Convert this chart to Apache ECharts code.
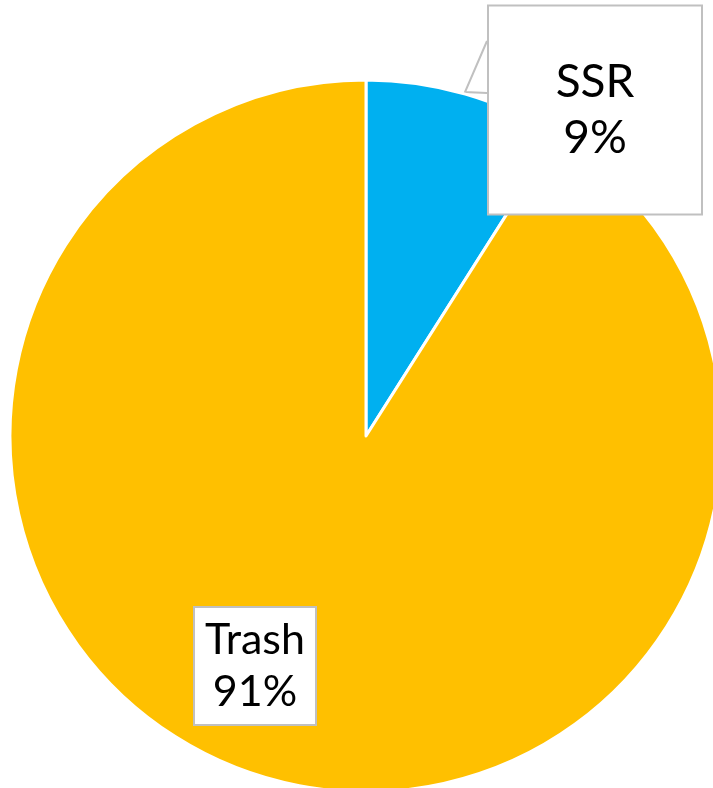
<!DOCTYPE html>
<html>
<head>
<meta charset="utf-8">
<script src="https://cdn.jsdelivr.net/npm/echarts@6/dist/echarts.min.js"></script>
<style>
html,body{margin:0;padding:0;background:#fff;}
#chart{width:713px;height:788px;}
</style>
</head>
<body>
<div id="chart"></div>
<script>
const categories = ['SSR', 'Trash'];
const values = [9, 91];
const colors = ['#00B0F0', '#FFC000'];
const labelTexts = ['SSR\n9%', 'Trash\n91%'];

const chart = echarts.init(document.getElementById('chart'), null, {renderer: 'canvas'});

const data = categories.map((c, i) => ({
  name: c,
  value: values[i],
  itemStyle: {color: colors[i]},
  label: i === 0 ? {
    fontSize: 46, lineHeight: 56, width: 212, padding: [50, 0, 45, 0]
  } : {
    fontSize: 43, lineHeight: 52, width: 120, padding: [6, 0, 6, 0]
  },
  labelLine: {show: i === 0}
}));

chart.setOption({
  animation: false,
  backgroundColor: '#fff',
  series: [{
    type: 'pie',
    center: [366, 436],
    radius: 356,
    startAngle: 90,
    clockwise: true,
    avoidLabelOverlap: false,
    itemStyle: {borderColor: '#fff', borderWidth: 3},
    label: {
      show: true,
      position: 'outside',
      formatter: p => labelTexts[p.dataIndex],
      fontFamily: 'Lato, "Open Sans", sans-serif',
      color: '#000',
      align: 'center',
      backgroundColor: '#fff',
      borderColor: '#c0c0c0',
      borderWidth: 2
    },
    labelLine: {
      show: true,
      lineStyle: {color: '#c0c0c0', width: 2}
    },
    labelLayout: function (p) {
      if (p.dataIndex === 0) {
        return {
          x: 595, y: 110, align: 'center', verticalAlign: 'middle',
          labelLinePoints: [[487, 41], [465, 92], [487, 93]]
        };
      }
      return {x: 255, y: 666, align: 'center', verticalAlign: 'middle'};
    },
    data: data
  }]
});
</script>
</body>
</html>
